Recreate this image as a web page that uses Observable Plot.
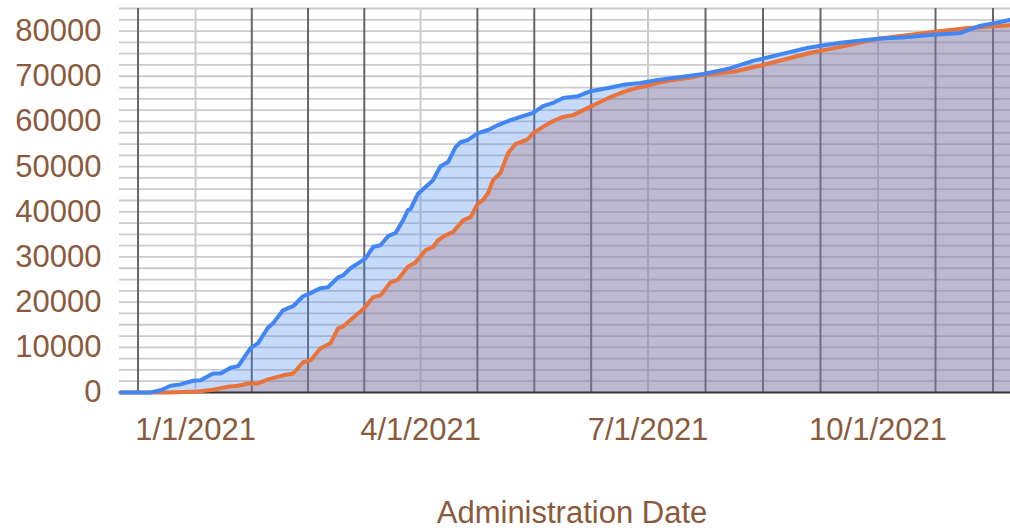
<!DOCTYPE html>
<html>
<head>
<meta charset="utf-8">
<script src="https://cdn.jsdelivr.net/npm/d3@7"></script>
<script src="https://cdn.jsdelivr.net/npm/@observablehq/plot@0.6"></script>
<style>
  html, body { margin: 0; padding: 0; background: #fff; }
</style>
</head>
<body>
<div id="chart"></div>
<script>
// First series (blue)
const blueDates = ["2020-12-02","2020-12-14","2020-12-18","2020-12-22","2020-12-26","2020-12-31","2021-01-03","2021-01-08","2021-01-11","2021-01-15","2021-01-18","2021-01-23","2021-01-26","2021-01-30","2021-02-01","2021-02-05","2021-02-09","2021-02-13","2021-02-16","2021-02-20","2021-02-23","2021-02-27","2021-03-01","2021-03-04","2021-03-07","2021-03-10","2021-03-13","2021-03-16","2021-03-19","2021-03-22","2021-03-25","2021-03-27","2021-03-28","2021-03-31","2021-04-03","2021-04-06","2021-04-09","2021-04-12","2021-04-15","2021-04-17","2021-04-20","2021-04-24","2021-04-28","2021-05-02","2021-05-07","2021-05-11","2021-05-16","2021-05-20","2021-05-24","2021-05-28","2021-06-03","2021-06-08","2021-06-15","2021-06-21","2021-06-28","2021-07-05","2021-07-11","2021-07-18","2021-07-23","2021-07-30","2021-08-03","2021-08-12","2021-08-27","2021-09-03","2021-09-16","2021-10-01","2021-10-13","2021-10-23","2021-11-03","2021-11-11","2021-11-19","2021-11-23"];
const blueValues = [0,0,500,1500,1800,2600,2700,4200,4200,5500,5800,9800,10900,14400,15300,18200,19100,21300,22000,23100,23300,25500,25900,27500,28600,29700,32200,32600,34600,35300,38100,40400,40600,44000,45500,47000,50100,51000,54300,55400,55900,57400,58100,59200,60300,61000,61900,63400,64100,65200,65600,66700,67400,68100,68500,69200,69600,70100,70500,71300,71800,73400,75400,76300,77400,78300,78700,79200,79600,81200,82000,82500];

// Second series (orange)
const orangeDates = ["2020-12-02","2020-12-21","2021-01-02","2021-01-08","2021-01-14","2021-01-18","2021-01-22","2021-01-26","2021-01-30","2021-02-05","2021-02-09","2021-02-13","2021-02-16","2021-02-20","2021-02-24","2021-02-27","2021-03-01","2021-03-07","2021-03-09","2021-03-13","2021-03-16","2021-03-20","2021-03-23","2021-03-27","2021-03-30","2021-04-03","2021-04-06","2021-04-08","2021-04-11","2021-04-14","2021-04-18","2021-04-21","2021-04-24","2021-04-26","2021-04-28","2021-04-30","2021-05-03","2021-05-06","2021-05-09","2021-05-14","2021-05-16","2021-05-20","2021-05-24","2021-05-28","2021-06-01","2021-06-07","2021-06-11","2021-06-16","2021-06-20","2021-06-25","2021-07-02","2021-07-09","2021-07-17","2021-07-23","2021-07-30","2021-08-04","2021-08-16","2021-09-04","2021-09-16","2021-10-01","2021-10-23","2021-11-06","2021-11-23"];
const orangeValues = [0,0,200,600,1300,1500,2000,2000,2900,3800,4200,6700,7100,9800,10900,14200,14600,17500,18400,21100,21500,24400,25000,27900,28800,31500,32200,33700,34800,35500,38100,38800,41900,42600,44100,47000,48600,53000,55000,56100,57400,58800,60100,61000,61400,63000,64100,65400,66300,67200,68100,69000,69600,70300,70700,71000,72500,75200,76500,78300,79800,80700,81300];

// Axis / grid definitions
const xLabelTicks = ["2021-01-01","2021-04-01","2021-07-01","2021-10-01"];
const xMinorGrid = ["2020-12-09T00:00","2021-01-23T12:00","2021-02-15T00:00","2021-03-09T12:00","2021-04-23T18:00","2021-05-16T12:00","2021-06-08T06:00","2021-07-24T00:00","2021-08-16T00:00","2021-09-08T00:00","2021-10-24T00:00","2021-11-16T00:00"];
const yLabelTicks = [0,10000,20000,30000,40000,50000,60000,70000,80000];
const yGridStep = 2500;
const yMax = 85000;
const xDomain = ["2020-12-01T14:00","2021-11-23T00:00"];
const axisTitle = "Administration Date";

const parseDay = d3.utcParse("%Y-%m-%d");
const parseTime = d3.utcParse("%Y-%m-%dT%H:%M");

const blue = blueDates.map((d, i) => ({date: parseDay(d), value: blueValues[i]}));
const orange = orangeDates.map((d, i) => ({date: parseDay(d), value: orangeValues[i]}));
const majorX = xLabelTicks.map(parseDay);
const minorX = xMinorGrid.map(parseTime);
const yGrid = d3.range(yGridStep, yMax + 1, yGridStep);

const textColor = "#8b5a3c";

const chart = Plot.plot({
  width: 1010,
  height: 532,
  marginLeft: 119,
  marginRight: 0,
  marginTop: 8,
  marginBottom: 140,
  style: {
    fontFamily: "'Liberation Sans', Arial, Helvetica, sans-serif",
    fontSize: "31px",
    color: textColor,
    background: "#fff",
    overflow: "visible"
  },
  x: {type: "utc", domain: xDomain.map(parseTime)},
  y: {domain: [0, yMax]},
  marks: [
    Plot.ruleY(yGrid, {stroke: "#cccccc", strokeWidth: 1.8}),
    Plot.ruleX(majorX, {stroke: "#cccccc", strokeWidth: 2}),
    Plot.ruleX(minorX, {stroke: "#666666", strokeWidth: 2}),
    Plot.areaY(blue, {x: "date", y: "value", fill: "#4285f4", fillOpacity: 0.3}),
    Plot.areaY(orange, {x: "date", y: "value", fill: "#a86c69", fillOpacity: 0.3}),
    Plot.ruleY([0], {stroke: "#333333", strokeWidth: 2}),
    Plot.lineY(orange, {x: "date", y: "value", stroke: "#e8743b", strokeWidth: 4}),
    Plot.lineY(blue, {x: "date", y: "value", stroke: "#4285f4", strokeWidth: 4}),
    Plot.axisY({ticks: yLabelTicks, tickSize: 0, tickPadding: 18, tickFormat: d => String(d), label: null, fill: textColor}),
    Plot.axisX({ticks: majorX, tickSize: 0, tickPadding: 25, tickFormat: d3.utcFormat("%-m/%-d/%Y"), label: null, fill: textColor}),
    Plot.text([axisTitle], {frameAnchor: "bottom", dx: 7, dy: 121, lineAnchor: "middle", fill: textColor, fontSize: 31})
  ]
});

document.getElementById("chart").appendChild(chart);
</script>
</body>
</html>
